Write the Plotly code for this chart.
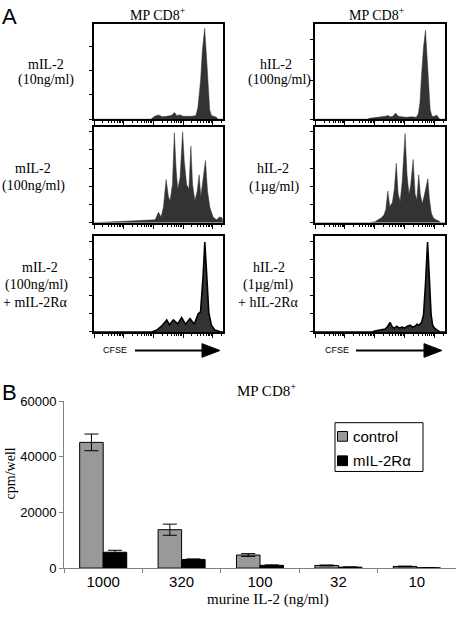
import plotly.graph_objects as go
import math

W, H = 456, 620

# ---------------- Panel A: CFSE histograms (x: 0-100 scale, y: % of panel height) ----------------
L1_x = [0, 44, 45, 47, 50, 53, 56, 60, 62.5, 64, 67, 69, 72, 76, 79, 80.5, 81.5, 82.7, 84, 85.8, 87.1, 88.4, 89.7, 91, 93, 95, 96, 100]
L1_y = [0, 0, 1, 3, 4.5, 2.5, 3, 4, 7, 4, 4.5, 3, 3, 3, 4, 12, 25, 42, 72, 95, 68, 35, 10, 4, 3, 2, 0, 0]

R1_x = [0, 40, 42, 46, 50, 54, 56, 58, 60, 62, 64, 67, 70, 74, 78, 79.5, 80.7, 82, 83.5, 85, 86.3, 87.6, 88.6, 90, 92, 93.5, 95, 96, 100]
R1_y = [0, 0, 1, 1.5, 2, 3, 4, 2.5, 3, 6.5, 3, 2.5, 2, 2.5, 2, 6, 17, 47, 76, 93, 65, 30, 10, 3, 3, 4.5, 2, 0, 0]

L2_x = [0, 38.5, 47.4, 50, 52, 53.8, 55.9, 57.7, 59, 60.8, 62.3, 63.6, 64.9, 66.7, 68.7, 70, 71.8, 73.6, 75.1, 76.4, 78.2, 80, 81.5, 82.8, 84.6, 86.4, 88, 89.8, 92.3, 94.9, 97.4, 99.2, 100]
L2_y = [0, 2, 3, 11, 6, 16, 45, 27, 23, 40, 94, 57, 35, 47, 95, 64, 40, 35, 80, 40, 23, 33, 50, 27, 44, 65, 33, 16, 6, 3, 6, 5, 0]

R2_x = [0, 42, 46, 49, 51, 53, 54.5, 56, 57.5, 59.5, 61, 62.5, 64, 65.5, 67, 69.3, 70.8, 72.3, 73.5, 75.5, 77, 78.3, 79.8, 81, 82.5, 84, 86.8, 88, 89.5, 91, 93, 95, 97, 100]
R2_y = [0, 0, 1, 3, 5, 8, 14, 33, 17, 21, 35, 62, 30, 22, 42, 93, 50, 30, 38, 66, 30, 24, 50, 30, 20, 28, 46, 25, 10, 5, 3, 2, 0, 0]

L3_x = [0, 44.9, 48.7, 53, 56.4, 58.5, 61.5, 64.9, 67.9, 71, 74.4, 77.7, 80.8, 82.6, 84.6, 85.9, 87.4, 89, 91, 93.6, 96.2, 98, 100]
L3_y = [0, 0, 2, 7, 12.5, 7.5, 12.5, 8.5, 15, 8, 14, 8, 19, 21, 59, 94, 59, 20, 7, 2, 1, 0, 0]

R3_x = [0, 44, 46, 50, 52, 54, 56, 57.7, 59.5, 61, 62.9, 65, 67, 69, 71, 73.2, 75, 77, 78.5, 80, 82, 83.5, 85, 86.6, 88, 89.3, 90.5, 92, 94, 96, 100]
R3_y = [0, 0, 1, 2, 2, 3, 6, 10, 5, 4, 6, 4, 5, 4, 6, 7, 5, 6, 8, 7, 10, 18, 50, 94, 55, 18, 7, 4, 2, 0, 0]

left_labels = [["mIL-2", "(10ng/ml)"], ["mIL-2", "(100ng/ml)"], ["mIL-2", "(100ng/ml)", "+ mIL-2Rα"]]
right_labels = [["hIL-2", "(100ng/ml)"], ["hIL-2", "(1µg/ml)"], ["hIL-2", "(1µg/ml)", "+ hIL-2Rα"]]

# ---------------- Panel B: bar chart ----------------
doses = ["1000", "320", "100", "32", "10"]
series_names = ["control", "mIL-2Rα"]
series_colors = ["#999999", "#000000"]
control_vals = [45200, 13800, 4700, 950, 600]
control_err = [3000, 2000, 500, 150, 100]
ra_vals = [5700, 3100, 1000, 350, 100]
ra_err = [700, 200, 150, 80, 50]
y_ticks = [0, 20000, 40000, 60000]

def px_x(p):
    return p / W

def px_y(p):
    return 1 - p / H

fig = go.Figure()

hist_panels = [
    (L1_x, L1_y, (94, 223, 17, 115), False, [0, 25.5, 51, 76.5]),
    (L2_x, L2_y, (94, 223, 123, 221), False, [0, 19, 38, 57, 76, 95.5]),
    (L3_x, L3_y, (94, 223, 235, 333), True, [0, 18.8, 37.6, 56.6, 75.9, 94.9]),
    (R1_x, R1_y, (315, 445, 17, 115), False, [0, 20.6, 41, 62, 83]),
    (R2_x, R2_y, (315, 445, 123, 221), False, [0, 19, 38, 57, 76, 95.5]),
    (R3_x, R3_y, (315, 445, 235, 333), True, [0, 18.8, 37.6, 56.6, 75.9, 94.9]),
]

decade = 23.0
major_x = [0, decade, 2 * decade, 3 * decade, 4 * decade]
minor_x = []
for d in range(5):
    for k in range(2, 10):
        v = d * decade + math.log10(k) * decade
        if v < 100:
            minor_x.append(v)

layout_axes = {}
for i, (hx, hy, box, outlined, yt) in enumerate(hist_panels):
    n = i + 2
    xa, ya = f"x{n}", f"y{n}"
    fig.add_trace(go.Scatter(
        x=hx, y=hy, mode="lines", fill="tozeroy",
        fillcolor="#333333",
        line=dict(color="#000000" if outlined else "#333333", width=1.6 if outlined else 0.5),
        xaxis=xa, yaxis=ya, showlegend=False, hoverinfo="skip"))
    x0, x1, y0, y1 = box
    layout_axes[f"xaxis{n}"] = dict(
        domain=[px_x(x0), px_x(x1)], anchor=ya, range=[0, 100],
        showline=True, mirror=True, linecolor="black", linewidth=2,
        ticks="outside", ticklen=4, tickwidth=1, tickcolor="black",
        tickvals=major_x, showticklabels=False, showgrid=False, zeroline=False,
        minor=dict(tickvals=minor_x, ticks="outside", ticklen=2, tickcolor="black", tickwidth=1, showgrid=False),
        fixedrange=True)
    layout_axes[f"yaxis{n}"] = dict(
        domain=[px_y(y1), px_y(y0)], anchor=xa, range=[0, 100],
        showline=True, mirror=True, linecolor="black", linewidth=2,
        ticks="outside", ticklen=3, tickwidth=1, tickcolor="black",
        tickvals=yt, showticklabels=False, showgrid=False, zeroline=False,
        fixedrange=True)

for name, color, vals, errs in [(series_names[0], series_colors[0], control_vals, control_err),
                                (series_names[1], series_colors[1], ra_vals, ra_err)]:
    fig.add_trace(go.Bar(
        x=doses, y=vals, name=name, showlegend=False,
        marker=dict(color=color, line=dict(color="black", width=1)),
        error_y=dict(type="data", array=errs, color="black", thickness=1, width=7),
        xaxis="x", yaxis="y"))

serif = "Liberation Serif, Times New Roman, serif"
sans = "Liberation Sans, Arial, sans-serif"

annotations = []
def txt(s, x, y, size=14, fam=serif, xanchor="center", angle=0):
    annotations.append(dict(text=s, x=px_x(x), y=px_y(y), xref="paper", yref="paper",
                            showarrow=False, xanchor=xanchor, yanchor="middle",
                            font=dict(family=fam, size=size, color="black"), textangle=angle))

txt("A", 0, 10, size=22, fam=sans, xanchor="left")
txt("B", 0, 395, size=22, fam=sans, xanchor="left")
txt("MP CD8<sup>+</sup>", 158, 7)
txt("MP CD8<sup>+</sup>", 377, 7)
left_pos = [[(46, 59), (46, 75)], [(33, 165), (33, 183)], [(40, 267), (36, 285), (35, 303)]]
right_pos = [[(276, 59), (279, 75)], [(273, 165), (274, 184)], [(269, 267), (268, 285), (268, 303)]]
for labs, poss in zip(left_labels, left_pos):
    for s, (x, y) in zip(labs, poss):
        txt(s, x, y)
for labs, poss in zip(right_labels, right_pos):
    for s, (x, y) in zip(labs, poss):
        txt(s, x, y)
txt("CFSE", 115, 352, size=9, fam=sans)
txt("CFSE", 337, 352, size=9, fam=sans)
txt("MP CD8<sup>+</sup>", 266, 392, size=15)
txt("murine IL-2 (ng/ml)", 268, 607, size=15)
txt("cpm/well", 10, 478, size=14, angle=-90)

shapes = []
for (lx0, lx1, hx0, hx1) in [(135, 204, 202, 220), (356, 426, 424, 442)]:
    cy = 352
    shapes.append(dict(type="line", xref="paper", yref="paper",
                       x0=px_x(lx0), x1=px_x(lx1), y0=px_y(cy), y1=px_y(cy),
                       line=dict(color="black", width=2)))
    shapes.append(dict(type="path", xref="paper", yref="paper",
                       path=f"M {px_x(hx0)},{px_y(cy-7)} L {px_x(hx1)},{px_y(cy)} L {px_x(hx0)},{px_y(cy+7)} Z",
                       fillcolor="black", line=dict(color="black", width=1)))

# manual legend box for panel B
shapes.append(dict(type="rect", xref="paper", yref="paper",
                   x0=px_x(335), x1=px_x(423), y0=px_y(476), y1=px_y(426),
                   line=dict(color="black", width=1), fillcolor="white", layer="above"))
for k, (name, color) in enumerate(zip(series_names, series_colors)):
    yc = 440 + 25 * k
    shapes.append(dict(type="rect", xref="paper", yref="paper",
                       x0=px_x(337.5), x1=px_x(347.5), y0=px_y(yc + 5), y1=px_y(yc - 5),
                       line=dict(color="black", width=1), fillcolor=color, layer="above"))
    txt(name, 351, yc, size=15, fam=sans, xanchor="left")

fig.update_layout(
    width=W, height=H, margin=dict(l=0, r=0, t=0, b=0),
    paper_bgcolor="white", plot_bgcolor="white",
    barmode="group", bargap=0.4, bargroupgap=0,
    showlegend=False,
    xaxis=dict(domain=[px_x(64), 1.0], anchor="y", type="category", range=[-0.5, 4.5],
               showline=True, linecolor="#808080", linewidth=1,
               ticks="outside", tickson="boundaries", ticklen=4, tickcolor="#808080",
               tickfont=dict(family=sans, size=15, color="black"),
               showgrid=False, zeroline=False, fixedrange=True),
    yaxis=dict(domain=[px_y(575), px_y(404)], anchor="x", range=[0, 60000],
               tickvals=y_ticks, ticktext=[str(v) for v in y_ticks],
               showline=True, linecolor="#808080", linewidth=1,
               ticks="outside", ticklen=4, tickcolor="#808080",
               tickfont=dict(family=sans, size=13, color="black"),
               showgrid=False, zeroline=False, fixedrange=True),
    annotations=annotations, shapes=shapes,
    **layout_axes,
)

fig.write_html("out.html", config={"displayModeBar": False},
               post_script="document.body.style.margin='0';document.body.style.padding='0';document.body.style.overflow='hidden';")
